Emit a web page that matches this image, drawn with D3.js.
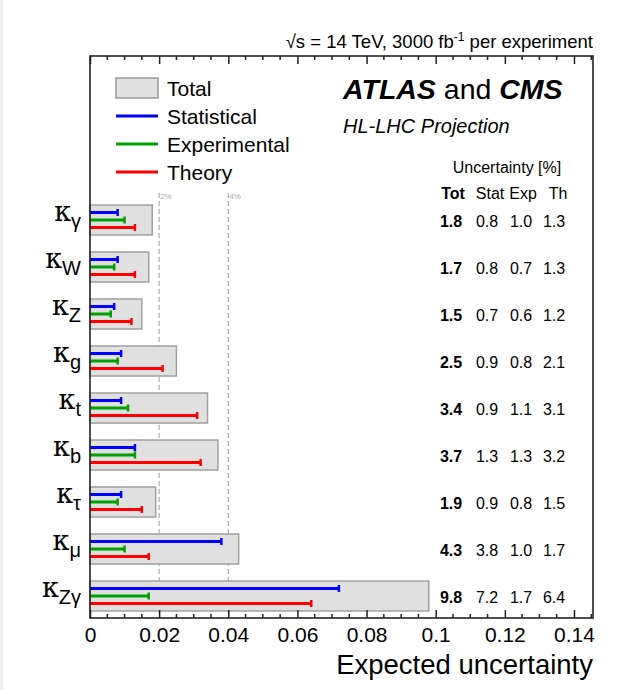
<!DOCTYPE html>
<html>
<head>
<meta charset="utf-8">
<script src="https://cdn.jsdelivr.net/npm/d3@7"></script>
<style>
  html, body { margin: 0; padding: 0; background: #fff; }
  svg { display: block; }
  text { font-family: "Liberation Sans", Arial, sans-serif; fill: #000; }
</style>
</head>
<body>
<svg id="chart" width="623" height="690"></svg>
<script>
// Couplings (kappa subscripts), top to bottom
const couplings = ["γ", "W", "Z", "g", "t", "b", "τ", "μ", "Zγ"];
// Expected uncertainties in percent
const totalUnc = [1.8, 1.7, 1.5, 2.5, 3.4, 3.7, 1.9, 4.3, 9.8];
const statUnc  = [0.8, 0.8, 0.7, 0.9, 0.9, 1.3, 0.9, 3.8, 7.2];
const expUnc   = [1.0, 0.7, 0.6, 0.8, 1.1, 1.3, 0.8, 1.0, 1.7];
const thUnc    = [1.3, 1.3, 1.2, 2.1, 3.1, 3.2, 1.5, 1.7, 6.4];
const xTicks = [0, 0.02, 0.04, 0.06, 0.08, 0.1, 0.12, 0.14];
const refLines = [0.02, 0.04];
const refLabels = ["2%", "4%"];

const svg = d3.select("#chart");
const frame = { left: 90, right: 593, top: 56, bottom: 618 };

const x = d3.scaleLinear().domain([0, 0.1455]).range([frame.left, frame.right]);
const y = d3.scalePoint().domain(couplings).range([220, 596]);

// page edge strip
svg.append("rect").attr("x", 0).attr("y", 0).attr("width", 3).attr("height", 690).attr("fill", "#efefef");

// dashed reference lines
refLines.forEach((v, i) => {
  svg.append("line")
    .attr("x1", x(v)).attr("x2", x(v))
    .attr("y1", 193).attr("y2", frame.bottom)
    .attr("stroke", "#9a9a9a").attr("stroke-width", 1)
    .attr("stroke-dasharray", "5,3");
  svg.append("text")
    .attr("x", x(v) + 1).attr("y", 199)
    .attr("font-size", 8).style("fill", "#aaa")
    .text(refLabels[i]);
});

const rows = couplings.map((c, i) => ({
  c, tot: totalUnc[i], stat: statUnc[i], exp: expUnc[i], th: thUnc[i]
}));

// total boxes
svg.append("g").selectAll("rect").data(rows).join("rect")
  .attr("x", x(0))
  .attr("y", d => y(d.c) - 15)
  .attr("width", d => x(d.tot / 100) - x(0))
  .attr("height", 30)
  .attr("fill", "#e0e0e0")
  .attr("stroke", "#a0a0a0")
  .attr("stroke-width", 1.5);

// component bars with end caps
const comps = [
  { key: "stat", color: "#0000ff", off: -7.5 },
  { key: "exp",  color: "#00a000", off: 0 },
  { key: "th",   color: "#ff0000", off: 7.5 }
];
comps.forEach(cp => {
  const g = svg.append("g");
  g.selectAll("line.bar").data(rows).join("line")
    .attr("class", "bar")
    .attr("x1", x(0))
    .attr("x2", d => x(d[cp.key] / 100))
    .attr("y1", d => y(d.c) + cp.off)
    .attr("y2", d => y(d.c) + cp.off)
    .attr("stroke", cp.color).attr("stroke-width", 3);
  g.selectAll("line.cap").data(rows).join("line")
    .attr("class", "cap")
    .attr("x1", d => x(d[cp.key] / 100))
    .attr("x2", d => x(d[cp.key] / 100))
    .attr("y1", d => y(d.c) + cp.off - 3.5)
    .attr("y2", d => y(d.c) + cp.off + 3.5)
    .attr("stroke", cp.color).attr("stroke-width", 2.5);
});

// axes: bottom with labels, top mirrored, minor ticks on both
const minor = d3.range(0, 0.1451, 0.005).filter(v => Math.abs(v / 0.02 - Math.round(v / 0.02)) > 1e-6);
const bottomAxis = svg.append("g").attr("transform", `translate(0,${frame.bottom})`)
  .call(d3.axisBottom(x).tickValues(xTicks).tickSize(-8).tickPadding(9).tickFormat(d3.format("~g")));
bottomAxis.select(".domain").remove();
bottomAxis.selectAll(".tick line").attr("stroke", "#222").attr("stroke-width", 1.5);
bottomAxis.selectAll(".tick text").attr("font-size", 21).attr("font-family", "Liberation Sans, Arial, sans-serif");

const topAxis = svg.append("g").attr("transform", `translate(0,${frame.top})`)
  .call(d3.axisTop(x).tickValues(xTicks).tickSize(-8).tickFormat(""));
topAxis.select(".domain").remove();
topAxis.selectAll(".tick line").attr("stroke", "#222").attr("stroke-width", 1.5);

svg.append("g").selectAll("line").data(minor).join("line")
  .attr("x1", d => x(d)).attr("x2", d => x(d))
  .attr("y1", frame.bottom).attr("y2", frame.bottom - 4)
  .attr("stroke", "#222").attr("stroke-width", 1.5);
svg.append("g").selectAll("line").data(minor).join("line")
  .attr("x1", d => x(d)).attr("x2", d => x(d))
  .attr("y1", frame.top).attr("y2", frame.top + 4)
  .attr("stroke", "#222").attr("stroke-width", 1.5);

// frame
svg.append("rect")
  .attr("x", frame.left).attr("y", frame.top)
  .attr("width", frame.right - frame.left).attr("height", frame.bottom - frame.top)
  .attr("fill", "none").attr("stroke", "#222").attr("stroke-width", 1.6);

// y labels: kappa with subscript
const ylab = svg.append("g").selectAll("text").data(couplings).join("text")
  .attr("x", 81)
  .attr("y", d => y(d) + 1)
  .attr("text-anchor", "end");
ylab.append("tspan")
  .attr("font-family", "DejaVu Serif, Liberation Serif, serif")
  .attr("font-size", 27)
  .text("κ");
ylab.append("tspan")
  .attr("font-size", 20)
  .attr("dy", 7)
  .text(d => d);

// axis title
svg.append("text")
  .attr("x", frame.right).attr("y", 674)
  .attr("text-anchor", "end").attr("font-size", 27.5)
  .text("Expected uncertainty");

// energy / luminosity label
const energyLabel = svg.append("text")
  .attr("x", frame.right).attr("y", 48)
  .attr("text-anchor", "end").attr("font-size", 18.5);
energyLabel.append("tspan").text("√s = 14 TeV, 3000 fb");
energyLabel.append("tspan").attr("font-size", 12).attr("dy", -7).text("-1");
energyLabel.append("tspan").attr("dy", 7).text(" per experiment");

// experiment label
const expLabel = svg.append("text").attr("x", 343).attr("y", 99).attr("font-size", 28.5);
expLabel.append("tspan").attr("font-weight", "bold").attr("font-style", "italic").text("ATLAS");
expLabel.append("tspan").text(" and ");
expLabel.append("tspan").attr("font-weight", "bold").attr("font-style", "italic").text("CMS");
svg.append("text").attr("x", 343).attr("y", 133).attr("font-size", 20)
  .attr("font-style", "italic").text("HL-LHC Projection");

// legend
const leg = svg.append("g");
leg.append("rect").attr("x", 116).attr("y", 78).attr("width", 42).attr("height", 20)
  .attr("fill", "#e0e0e0").attr("stroke", "#999").attr("stroke-width", 1.5);
leg.append("text").attr("x", 167).attr("y", 96).attr("font-size", 21).text("Total");
const legItems = [
  { label: "Statistical", color: "#0000ff" },
  { label: "Experimental", color: "#00a000" },
  { label: "Theory", color: "#ff0000" }
];
legItems.forEach((it, i) => {
  const ly = 116 + i * 28;
  leg.append("line").attr("x1", 116).attr("x2", 158).attr("y1", ly).attr("y2", ly)
    .attr("stroke", it.color).attr("stroke-width", 3);
  leg.append("text").attr("x", 167).attr("y", ly + 8).attr("font-size", 21).text(it.label);
});

// uncertainty table
const colHead = [453, 490, 523, 558];
const colVal = [451, 487, 521, 554];
svg.append("text").attr("x", 507).attr("y", 173).attr("font-size", 16)
  .attr("text-anchor", "middle").text("Uncertainty [%]");
["Tot", "Stat", "Exp", "Th"].forEach((h, i) => {
  svg.append("text").attr("x", colHead[i]).attr("y", 199).attr("font-size", 16)
    .attr("text-anchor", "middle")
    .attr("font-weight", i === 0 ? "bold" : "normal")
    .text(h);
});
const table = svg.append("g");
rows.forEach(d => {
  [d.tot, d.stat, d.exp, d.th].forEach((v, i) => {
    table.append("text")
      .attr("x", colVal[i]).attr("y", y(d.c) + 7)
      .attr("font-size", 16).attr("text-anchor", "middle")
      .attr("font-weight", i === 0 ? "bold" : "normal")
      .text(v.toFixed(1));
  });
});
</script>
</body>
</html>
